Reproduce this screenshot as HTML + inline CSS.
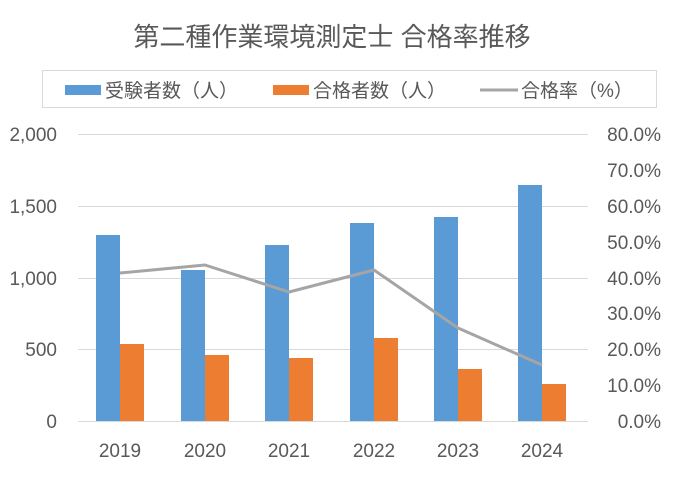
<!DOCTYPE html>
<html><head><meta charset="utf-8"><style>
body{margin:0;background:#fff;}
svg text{font-family:"Liberation Sans","Noto Sans CJK JP",sans-serif;}
</style></head><body>
<svg width="678" height="480" xmlns="http://www.w3.org/2000/svg">
<rect width="678" height="480" fill="#fff"/>
<text x="332" y="46" text-anchor="middle" font-size="26" fill="#595959">第二種作業環境測定士 合格率推移</text>
<rect x="42.5" y="70.5" width="614" height="37" fill="#fff" stroke="#d9d9d9"/>
<rect x="65" y="85" width="36" height="10" fill="#5b9bd5"/>
<text x="105" y="97" font-size="19" fill="#595959">受験者数（人）</text>
<rect x="273" y="85" width="36" height="10" fill="#ed7d31"/>
<text x="313" y="97" font-size="19" fill="#595959">合格者数（人）</text>
<line x1="480" y1="90" x2="518" y2="90" stroke="#a5a5a5" stroke-width="3"/>
<text x="521" y="97" font-size="19" fill="#595959">合格率（%）</text>
<g stroke="#d9d9d9" stroke-width="1">
<line x1="78" y1="134.5" x2="588" y2="134.5"/>
<line x1="78" y1="206.5" x2="588" y2="206.5"/>
<line x1="78" y1="278.5" x2="588" y2="278.5"/>
<line x1="78" y1="349.5" x2="588" y2="349.5"/>
<line x1="78" y1="421.5" x2="588" y2="421.5"/>
</g>
<g font-size="19" fill="#595959" text-anchor="end">
<text x="57" y="141">2,000</text><text x="57" y="213">1,500</text><text x="57" y="285">1,000</text><text x="57" y="356">500</text><text x="57" y="428">0</text>
</g>
<g font-size="19" fill="#595959" text-anchor="end">
<text x="661" y="141">80.0%</text><text x="661" y="177">70.0%</text><text x="661" y="213">60.0%</text><text x="661" y="249">50.0%</text><text x="661" y="285">40.0%</text><text x="661" y="320">30.0%</text><text x="661" y="356">20.0%</text><text x="661" y="392">10.0%</text><text x="661" y="428">0.0%</text>
</g>
<g fill="#5b9bd5">
<rect x="96" y="235" width="24" height="186"/>
<rect x="181" y="270" width="24" height="151"/>
<rect x="265" y="245" width="24" height="176"/>
<rect x="350" y="223" width="24" height="198"/>
<rect x="434" y="217" width="24" height="204"/>
<rect x="518" y="185" width="24" height="236"/>
</g>
<g fill="#ed7d31">
<rect x="120" y="344" width="24" height="77"/>
<rect x="205" y="355" width="24" height="66"/>
<rect x="289" y="358" width="24" height="63"/>
<rect x="374" y="338" width="24" height="83"/>
<rect x="458" y="369" width="24" height="52"/>
<rect x="542" y="384" width="24" height="37"/>
</g>
<polyline points="120,273 205,265 289,292 374,270 458,328 542,365" fill="none" stroke="#a5a5a5" stroke-width="3" stroke-linejoin="round"/>
<g font-size="19" fill="#595959" text-anchor="middle">
<text x="120" y="457">2019</text><text x="205" y="457">2020</text><text x="289" y="457">2021</text><text x="374" y="457">2022</text><text x="458" y="457">2023</text><text x="542" y="457">2024</text>
</g>
</svg>
</body></html>
